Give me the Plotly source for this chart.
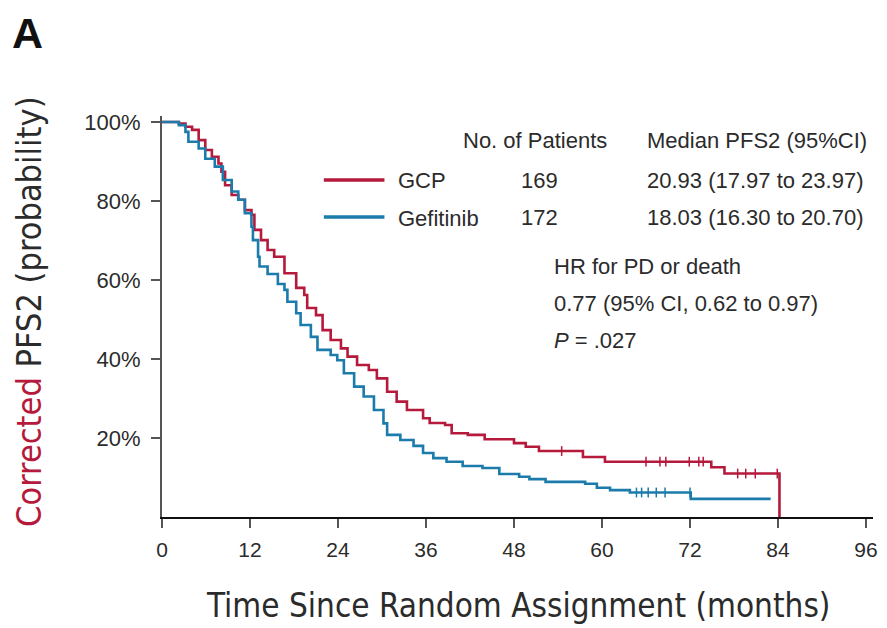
import plotly.graph_objects as go

# ---- data ----
gcp_t = [0, 2.3, 3.2, 4.1, 5.0, 5.9, 6.8, 7.7, 8.1, 8.6, 9.5, 10.4, 11.3, 12.2, 12.6, 13.5, 14.4,
         15.3, 16.7, 18.3, 19.4, 19.8, 21.0, 21.9, 23.0, 24.4, 25.3, 26.6, 28.2, 29.3, 30.7, 32.0,
         33.4, 35.6, 36.5, 38.6, 39.5, 41.7, 44.0, 48.0, 49.6, 51.4, 57.4, 60.4, 74.9, 76.7, 84.2, 84.2]
gcp_s = [100, 99.6, 98.8, 98.0, 95.4, 92.9, 91.2, 89.5, 87.4, 84.0, 81.5, 80.3, 77.7, 76.5, 72.7, 70.1, 67.6,
         65.9, 61.7, 58.0, 56.2, 52.9, 51.1, 47.3, 44.8, 42.7, 40.6, 38.5, 37.2, 35.1, 31.7, 29.2,
         27.1, 25.0, 23.8, 23.3, 21.2, 20.8, 19.7, 18.7, 17.8, 16.7, 15.2, 14.0, 12.6, 11.0, 11.0, 0]
gcp_cens_t = [54.5, 66.0, 67.9, 68.7, 71.9, 73.2, 73.8, 78.5, 79.6, 80.9, 83.9]
gcp_cens_s = [16.7, 14.0, 14.0, 14.0, 14.0, 14.0, 14.0, 11.0, 11.0, 11.0, 11.0]

gef_t = [0, 2.3, 3.2, 3.6, 5.0, 5.9, 7.2, 8.3, 9.5, 10.4, 11.3, 12.2, 12.4, 13.1, 13.3, 14.4, 15.8,
         16.7, 17.1, 18.3, 18.9, 20.3, 21.2, 23.0, 23.9, 24.8, 26.2, 27.5, 28.9, 30.2, 30.7, 32.5,
         34.3, 35.6, 37.0, 38.8, 41.0, 43.7, 46.0, 48.7, 50.1, 52.3, 57.7, 59.3, 61.1, 63.8, 72.1, 83.0]
gef_s = [100, 99.2, 97.5, 95.0, 93.3, 90.7, 88.7, 85.3, 82.4, 80.3, 76.9, 73.5, 70.1, 65.9, 63.4, 61.5, 59.0,
         57.5, 54.5, 51.6, 48.6, 45.6, 42.3, 41.0, 39.7, 36.4, 33.0, 30.5, 27.1, 23.7, 20.8, 19.5,
         18.0, 16.2, 14.9, 14.0, 12.9, 12.4, 10.9, 10.2, 9.6, 8.9, 8.4, 7.4, 6.8, 6.2, 4.6, 4.6]
gef_cens_t = [64.7, 65.4, 66.3, 67.4, 68.6, 72.0]
gef_cens_s = [6.2, 6.2, 6.2, 6.2, 6.2, 6.2]

x_ticks = [0, 12, 24, 36, 48, 60, 72, 84, 96]
y_ticks = [20, 40, 60, 80, 100]
y_tick_labels = ["20%", "40%", "60%", "80%", "100%"]

RED = "#b5193b"
BLUE = "#1b7bab"
TXT = "#2b2b2b"

# plot area in pixels
L, R, T, B = 162, 878, 116, 517
W, H = 887, 628


def px(x):
    return (x - L) / (R - L)


def py(y):
    return (B - y) / (B - T)


fig = go.Figure()
fig.add_trace(go.Scatter(x=gcp_t, y=gcp_s, mode="lines", line=dict(color=RED, width=2.6, shape="hv"),
                         showlegend=False, hoverinfo="skip"))
fig.add_trace(go.Scatter(x=gef_t, y=gef_s, mode="lines", line=dict(color=BLUE, width=2.6, shape="hv"),
                         showlegend=False, hoverinfo="skip"))
fig.add_trace(go.Scatter(x=gcp_cens_t, y=gcp_cens_s, mode="markers",
                         marker=dict(symbol="line-ns", size=7, line=dict(color=RED, width=1.5)),
                         showlegend=False, hoverinfo="skip"))
fig.add_trace(go.Scatter(x=gef_cens_t, y=gef_cens_s, mode="markers",
                         marker=dict(symbol="line-ns", size=7, line=dict(color=BLUE, width=1.5)),
                         showlegend=False, hoverinfo="skip"))

fnt = "Liberation Sans, Arial, sans-serif"
narrow = "Liberation Sans Narrow, Arial Narrow, DejaVu Sans Condensed, sans-serif"

fig.update_layout(
    width=W, height=H,
    margin=dict(l=L, r=W - R, t=T, b=H - B),
    paper_bgcolor="white", plot_bgcolor="white",
    xaxis=dict(range=[0, (R - L) / 7.385], tickvals=x_ticks, ticks="outside", ticklen=9, tickwidth=1.5,
               tickcolor="#555", showline=True, linecolor="#111", linewidth=2, showgrid=False,
               zeroline=False, tickfont=dict(family=fnt, size=21, color=TXT), ticklabelstandoff=4),
    yaxis=dict(range=[0, (B - T) / 3.95], tickvals=y_ticks, ticktext=y_tick_labels, ticks="outside",
               ticklen=9, tickwidth=1.5, tickcolor="#555", showline=True, linecolor="#555", linewidth=2,
               showgrid=False, zeroline=False, tickfont=dict(family=fnt, size=22, color=TXT),
               ticklabelstandoff=6),
)

ann = []


def add_text(text, x, y, size=22, family=fnt, color=TXT, xanchor="left", angle=0):
    ann.append(dict(text=text, x=px(x), y=py(y), xref="paper", yref="paper", showarrow=False,
                    xanchor=xanchor, yanchor="middle", textangle=angle,
                    font=dict(family=family, size=size, color=color)))


add_text("No. of Patients", 463, 140)
add_text("Median PFS2 (95%CI)", 648, 140)
add_text("GCP", 398, 180)
add_text("169", 522, 180)
add_text("20.93 (17.97 to 23.97)", 648, 180)
add_text("Gefitinib", 398, 218)
add_text("172", 522, 217)
add_text("18.03 (16.30 to 20.70)", 648, 217)
add_text("HR for PD or death", 555, 266)
add_text("0.77 (95% CI, 0.62 to 0.97)", 555, 303)
add_text("<i>P</i> = .027", 555, 340)
add_text("<b>A</b>", 9, 33, size=43, color="#111")
add_text("<span style='color:%s'>Corrected</span> PFS2 (probability)" % RED, 28, 311, size=34,
         family=narrow, color=TXT, xanchor="center", angle=-90)
add_text("Time Since Random Assignment (months)", 521, 605, size=33, family=narrow, color=TXT,
         xanchor="center")
fig.update_layout(annotations=ann)

fig.add_shape(type="line", xref="paper", yref="paper", x0=px(325), x1=px(386), y0=py(180), y1=py(180),
              line=dict(color=RED, width=3.5))
fig.add_shape(type="line", xref="paper", yref="paper", x0=px(325), x1=px(386), y0=py(217), y1=py(217),
              line=dict(color=BLUE, width=3.5))

fig.write_html("out.html")
